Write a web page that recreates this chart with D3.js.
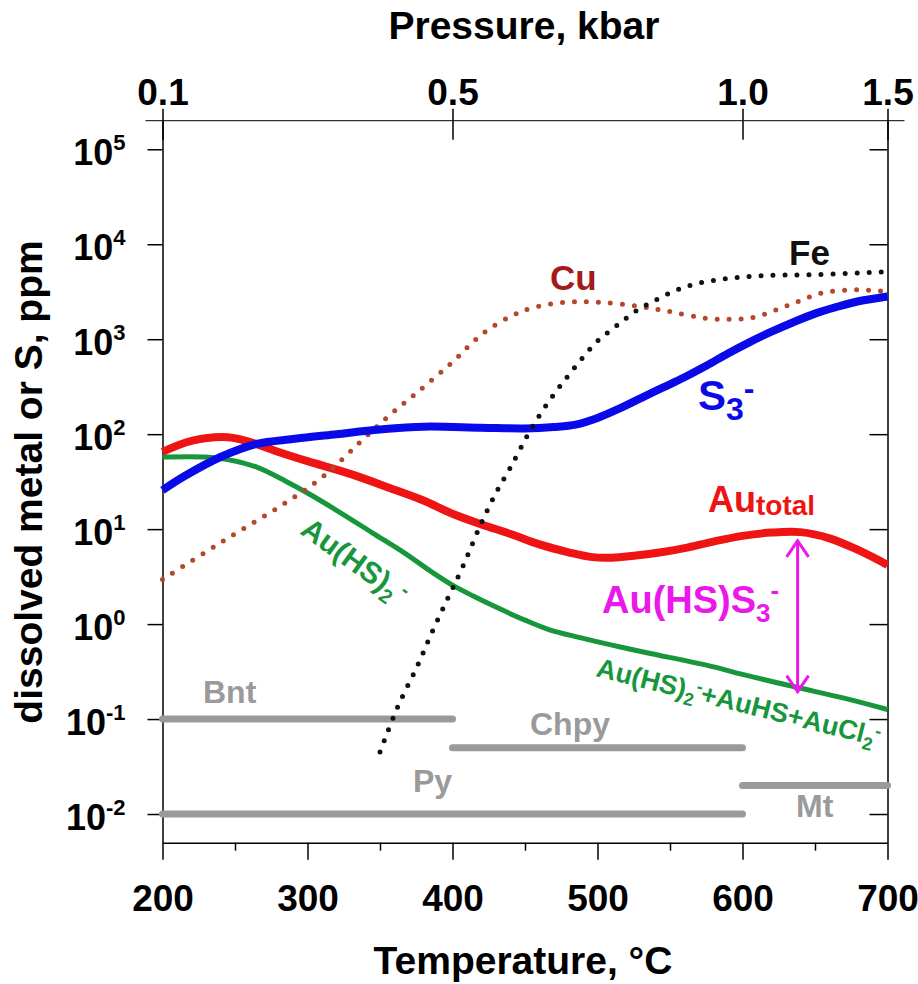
<!DOCTYPE html>
<html>
<head>
<meta charset="utf-8">
<script src="https://cdn.jsdelivr.net/npm/d3@7"></script>
<style>
    body { margin: 0; background: #fff; }
    svg text { font-family: "Liberation Sans", Arial, sans-serif; font-weight: bold; }
</style>
</head>
<body>
<div id="chart"></div>
<script>
// ---- data (temperature in °C, concentration in ppm) ----
const auTotalT = [200, 220, 245, 260, 280, 300, 330, 360, 380, 400, 420, 440, 460, 480, 495, 510, 525, 545, 560, 580, 600, 620, 640, 660, 680, 700];
const auTotal = [65, 85, 93, 83, 65, 52, 38, 26, 20, 14.5, 11.2, 8.9, 6.9, 5.7, 5.1, 5.0, 5.25, 5.75, 6.3, 7.4, 8.5, 9.2, 9.3, 8.0, 6.0, 4.2];

const auHS2T = [200, 230, 245, 265, 285, 300, 320, 345, 367, 385, 400, 415, 430, 450, 467, 488, 510, 534, 580, 600, 635, 670, 700];
const auHS2 = [57.5, 57.5, 54, 45, 32, 24, 15.8, 9.1, 5.6, 3.6, 2.57, 1.95, 1.51, 1.10, 0.87, 0.72, 0.60, 0.50, 0.355, 0.295, 0.22, 0.166, 0.126];

const s3T = [200, 215, 240, 265, 290, 320, 350, 380, 420, 450, 470, 485, 500, 515, 530, 545, 560, 575, 590, 605, 620, 635, 650, 665, 680, 700];
const s3 = [25.7, 36, 57.5, 79, 89, 100, 112, 120, 117, 115, 119, 126, 148, 186, 240, 309, 398, 525, 708, 933, 1200, 1510, 1860, 2190, 2510, 2820];

const cuT = [200, 240, 285, 310, 335, 355, 375, 400, 420, 440, 455, 478, 500, 527, 550, 575, 592, 608, 632, 656, 680, 700];
const cu = [2.95, 7.2, 19, 35, 79, 151, 270, 575, 1120, 1740, 2140, 2450, 2450, 2240, 1950, 1660, 1620, 1700, 2290, 3090, 3310, 3160];

const feT = [350, 362, 376, 386, 397, 407, 420, 431, 440, 451, 460, 470, 480, 490, 500, 513, 527, 541, 555, 570, 590, 615, 650, 700];
const fe = [0.045, 0.132, 0.37, 0.83, 1.9, 4.0, 11.7, 25.7, 44.7, 93, 158, 263, 417, 646, 955, 1380, 2000, 2630, 3310, 3890, 4370, 4680, 4790, 5130];

// mineral stability ranges
const minerals = ["Bnt", "Chpy", "Py", "Mt"];
const mineralFrom = [200, 400, 200, 600];
const mineralTo = [400, 600, 600, 700];
const mineralLevel = [0.1, 0.05, 0.01, 0.02];

// Au(HS)S3- contribution arrow
const arrowT = 638;
const arrowTop = 7.7;
const arrowBottom = 0.19;

// axes
const tempTicks = [200, 300, 400, 500, 600, 700];
const tempMinorTicks = [250, 350, 450, 550, 650];
const pressureTicks = [0.1, 0.5, 1.0, 1.5];
const pressureAtT = [200, 400, 600, 700];
const decades = [1e-2, 1e-1, 1e0, 1e1, 1e2, 1e3, 1e4, 1e5];
const decadeExp = ["-2", "-1", "0", "1", "2", "3", "4", "5"];


class MetalChart {

    constructor(_parentElement) {
        this.parentElement = _parentElement;
        this.initVis();
    }

    initVis() {
        let vis = this;

        vis.margin = { top: 120.7, right: 30.5, bottom: 141.3, left: 162.5 };
        vis.width = 918 - vis.margin.left - vis.margin.right;
        vis.height = 984 - vis.margin.top - vis.margin.bottom;

        vis.root = d3.select("#" + vis.parentElement).append("svg")
            .attr("width", 918)
            .attr("height", 984);

        vis.svg = vis.root.append("g")
            .attr("transform", "translate(" + vis.margin.left + "," + vis.margin.top + ")");

        // Scales
        vis.x = d3.scaleLinear()
            .domain([200, 700])
            .range([0, vis.width]);

        vis.y = d3.scaleLog()
            .domain([Math.pow(10, -2.302), Math.pow(10, 5.301)])
            .range([vis.height, 0]);

        // pressure axis follows the temperature path
        vis.p = d3.scaleLinear()
            .domain(pressureTicks)
            .range(pressureAtT.map(t => vis.x(t)));

        vis.line = d3.line()
            .x(d => vis.x(d[0]))
            .y(d => vis.y(d[1]))
            .curve(d3.curveCatmullRom.alpha(0.5));

        vis.drawAxes();
        vis.updateVis();
    }

    drawAxes() {
        let vis = this;
        const font = "'Liberation Sans', Arial, sans-serif";

        // bottom temperature axis
        vis.svg.append("g")
            .attr("class", "x-axis")
            .attr("transform", "translate(0," + vis.height + ")")
            .call(d3.axisBottom(vis.x).tickValues(tempTicks).tickSize(17).tickSizeOuter(0).tickPadding(25))
            .attr("font-size", 37)
            .attr("font-family", font);

        let minor = vis.svg.append("g")
            .attr("transform", "translate(0," + vis.height + ")")
            .call(d3.axisBottom(vis.x).tickValues(tempMinorTicks).tickSize(8).tickFormat(""));
        minor.select(".domain").remove();

        // left log axis
        vis.svg.append("g")
            .attr("class", "y-axis")
            .call(d3.axisLeft(vis.y).tickValues(decades).tickSize(15).tickSizeOuter(0).tickFormat(""));

        let ylab = vis.svg.append("g").selectAll("text")
            .data(decades)
            .enter().append("text")
            .attr("x", -37)
            .attr("y", d => vis.y(d) + 16)
            .attr("text-anchor", "end");
        ylab.append("tspan").attr("font-size", 36).text("10");
        ylab.append("tspan").attr("font-size", 22).attr("dy", -15).text((d, i) => decadeExp[i]);

        // right axis, ticks inward
        vis.svg.append("g")
            .attr("transform", "translate(" + vis.width + ",0)")
            .call(d3.axisLeft(vis.y).tickValues(decades).tickSize(18).tickSizeOuter(0).tickFormat(""));

        // top pressure axis
        vis.svg.append("line")
            .attr("x1", -17).attr("x2", vis.width + 17)
            .attr("y1", 0).attr("y2", 0)
            .attr("stroke", "#000");

        let top = vis.svg.append("g")
            .call(d3.axisTop(vis.p).tickValues(pressureTicks).tickSize(12).tickPadding(4).tickFormat(d3.format(".1f")))
            .attr("font-size", 37)
            .attr("font-family", font);
        top.select(".domain").remove();
        top.selectAll(".tick").append("line")
            .attr("y2", 19)
            .attr("stroke", "#000");

        vis.svg.selectAll(".domain, .tick line").attr("stroke-width", 1.5);

        // axis titles
        vis.root.append("text")
            .attr("x", 524).attr("y", 39)
            .attr("text-anchor", "middle")
            .attr("font-size", 39)
            .text("Pressure, kbar");

        vis.root.append("text")
            .attr("x", 523).attr("y", 974)
            .attr("text-anchor", "middle")
            .attr("font-size", 39)
            .text("Temperature, °C");

        vis.root.append("text")
            .attr("transform", "translate(42,482) rotate(-90)")
            .attr("text-anchor", "middle")
            .attr("font-size", 39)
            .text("dissolved metal or S, ppm");
    }

    updateVis() {
        let vis = this;

        // mineral bars
        vis.svg.append("g").selectAll("line")
            .data(minerals)
            .enter().append("line")
            .attr("x1", (d, i) => vis.x(mineralFrom[i]))
            .attr("x2", (d, i) => vis.x(mineralTo[i]))
            .attr("y1", (d, i) => vis.y(mineralLevel[i]))
            .attr("y2", (d, i) => vis.y(mineralLevel[i]))
            .attr("stroke", "#9a9a9a")
            .attr("stroke-width", 7)
            .attr("stroke-linecap", "round");

        const zip = (ts, vs) => ts.map((t, i) => [t, vs[i]]);

        vis.svg.append("path")
            .datum(zip(auHS2T, auHS2))
            .attr("d", vis.line)
            .attr("fill", "none").attr("stroke", "#18963c").attr("stroke-width", 5);

        vis.svg.append("path")
            .datum(zip(auTotalT, auTotal))
            .attr("d", vis.line)
            .attr("fill", "none").attr("stroke", "#ee1414").attr("stroke-width", 8);

        vis.svg.append("path")
            .datum(zip(cuT, cu))
            .attr("d", vis.line)
            .attr("fill", "none").attr("stroke", "#b5482a").attr("stroke-width", 5)
            .attr("stroke-linecap", "round").attr("stroke-dasharray", "0,12");

        vis.svg.append("path")
            .datum(zip(s3T, s3))
            .attr("d", vis.line)
            .attr("fill", "none").attr("stroke", "#0a0ae8").attr("stroke-width", 8);

        vis.svg.append("path")
            .datum(zip(feT, fe))
            .attr("d", vis.line)
            .attr("fill", "none").attr("stroke", "#111").attr("stroke-width", 5)
            .attr("stroke-linecap", "round").attr("stroke-dasharray", "0,12");

        // double-headed arrow for Au(HS)S3-
        let ax = vis.x(arrowT), ay1 = vis.y(arrowTop), ay2 = vis.y(arrowBottom);
        let arrow = vis.svg.append("g")
            .attr("fill", "none").attr("stroke", "#ea18ea").attr("stroke-width", 3);
        arrow.append("line").attr("x1", ax).attr("x2", ax).attr("y1", ay1).attr("y2", ay2);
        arrow.append("path").attr("d", `M${ax - 11},${ay1 + 17}L${ax},${ay1 + 1}L${ax + 11},${ay1 + 17}`);
        arrow.append("path").attr("d", `M${ax - 11},${ay2 - 17}L${ax},${ay2 - 1}L${ax + 11},${ay2 - 17}`);

        vis.drawLabels();
    }

    drawLabels() {
        let vis = this;
        let r = vis.root;

        // mineral names
        [["Bnt", 203, 703], ["Chpy", 530, 735], ["Py", 413, 792], ["Mt", 796, 817]].forEach(m => {
            r.append("text").attr("x", m[1]).attr("y", m[2])
                .attr("font-size", 32).attr("fill", "#9a9a9a").text(m[0]);
        });

        r.append("text").attr("x", 550).attr("y", 290)
            .attr("font-size", 35).attr("fill", "#a31b1b").text("Cu");

        r.append("text").attr("x", 789).attr("y", 265)
            .attr("font-size", 35).attr("fill", "#111").text("Fe");

        let s = r.append("text").attr("x", 698).attr("y", 410).attr("fill", "#0a0ae8");
        s.append("tspan").attr("font-size", 42).text("S");
        s.append("tspan").attr("font-size", 32).attr("dy", 10).text("3");
        s.append("tspan").attr("font-size", 32).attr("dy", -21).text("-");

        let au = r.append("text").attr("x", 708).attr("y", 512).attr("fill", "#ee1414");
        au.append("tspan").attr("font-size", 36).text("Au");
        au.append("tspan").attr("font-size", 28).attr("dy", 3).text("total");

        let m = r.append("text").attr("x", 602).attr("y", 613).attr("fill", "#ea18ea");
        m.append("tspan").attr("font-size", 38).text("Au(HS)S");
        m.append("tspan").attr("font-size", 26).attr("dy", 9).text("3");
        m.append("tspan").attr("font-size", 26).attr("dy", -23).text("-");

        let g1 = r.append("text").attr("transform", "translate(299,533) rotate(36)").attr("fill", "#18963c");
        g1.append("tspan").attr("font-size", 30).text("Au(HS)");
        g1.append("tspan").attr("font-size", 20).attr("dy", 7).text("2");
        g1.append("tspan").attr("font-size", 20).attr("dx", 4).attr("dy", -17).text("-");

        let g2 = r.append("text").attr("transform", "translate(595,676) rotate(14)").attr("fill", "#18963c");
        g2.append("tspan").attr("font-size", 27).text("Au(HS)");
        g2.append("tspan").attr("font-size", 18).attr("dy", 6).text("2");
        g2.append("tspan").attr("font-size", 18).attr("dy", -15).text("-");
        g2.append("tspan").attr("font-size", 27).attr("dy", 9).text("+AuHS+AuCl");
        g2.append("tspan").attr("font-size", 18).attr("dy", 6).text("2");
        g2.append("tspan").attr("font-size", 18).attr("dy", -15).text("-");
    }
}

new MetalChart("chart");
</script>
</body>
</html>
